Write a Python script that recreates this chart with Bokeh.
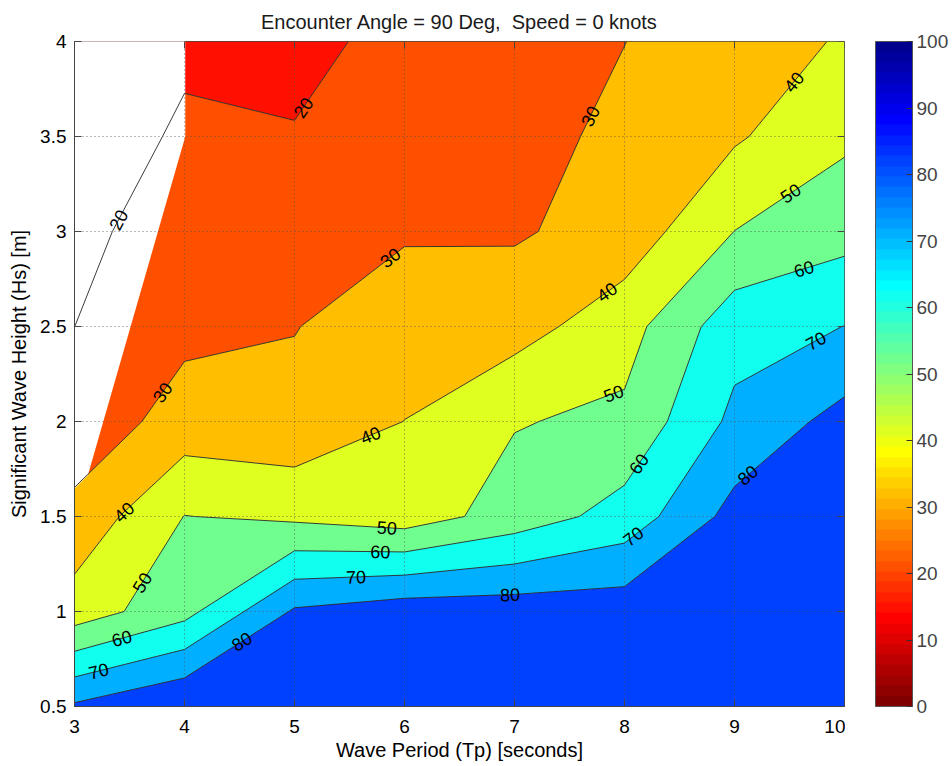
import numpy as np
import contourpy
from bokeh.plotting import figure
from bokeh.layouts import row
from bokeh.models import (ColumnDataSource, LinearColorMapper, ColorBar, FixedTicker,
                          CustomJSTickFormatter, LabelSet, Range1d)
from bokeh.core.properties import value
from bokeh.embed import file_html
from bokeh.resources import INLINE

# ---------------- data ----------------
wave_period = [3, 4, 5, 6, 7, 8, 9, 10]                    # Tp [s]
wave_height = [0.5, 1.0, 1.5, 2.0, 2.5, 3.0, 3.5, 4.0]     # Hs [m]
# percentage values, one list per wave height (columns follow wave_period)
pct_hs_0_5 = [81.5, 90.0, 92.0, 93.0, 94.0, 94.0, 95.0, 96.0]
pct_hs_1_0 = [44.5, 56.7, 81.3, 85.7, 85.6, 85.7, 90.0, 92.0]
pct_hs_1_5 = [33.0, 50.2, 48.0, 44.7, 54.4, 63.9, 83.5, 88.0]
pct_hs_2_0 = [23.2, 34.3, 32.6, 40.1, 49.4, 52.1, 72.4, 83.5]
pct_hs_2_5 = [19.98, 27.5, 29.7, 35.0, 36.0, 45.9, 66.1, 70.1]
pct_hs_3_0 = [17.9, 24.0, 26.0, 29.05, 28.9, 34.0, 50.1, 56.45]
pct_hs_3_5 = [14.0, 21.5, 21.0, 27.0, 27.0, 32.0, 38.75, 48.2]
pct_hs_4_0 = [12.0, 18.2, 15.1, 25.1, 26.0, 29.9, 35.0, 40.95]

contour_levels = [20, 30, 40, 50, 60, 70, 80]
lowest_band_value = 13.0

# unfilled (blank) area in the upper-left corner
blank_tp = [3.0, 3.115, 4.0, 4.0, 3.0]
blank_hs = [1.653, 1.718, 3.5, 4.0, 4.0]

# inline contour labels: level and Tp position along the line
label_level = [20, 20, 30, 30, 30, 40, 40, 40, 40, 50, 50, 50, 50,
               60, 60, 60, 60, 70, 70, 70, 70, 80, 80, 80]
label_tp = [5.08, 3.40, 3.80, 5.87, 7.69, 3.45, 5.69, 7.84, 9.54, 3.615, 5.84, 7.90, 9.51,
            3.43, 5.78, 8.13, 9.63, 3.22, 5.56, 8.08, 9.74, 4.52, 6.96, 9.12]

x_ticks = [3, 4, 5, 6, 7, 8, 9, 10]
y_ticks = [0.5, 1, 1.5, 2, 2.5, 3, 3.5, 4]
cbar_ticks = [0, 10, 20, 30, 40, 50, 60, 70, 80, 90, 100]
cbar_low, cbar_high = 0, 100

title_text = "Encounter Angle = 90 Deg,\u00a0 Speed = 0 knots"
x_label = "Wave Period (Tp) [seconds]"
y_label = "Significant Wave Height (Hs) [m]"

# ---------------- helpers ----------------
FONT = "Liberation Sans"
FRAME_W, FRAME_H = 770, 665
TOP, BOTTOM = 41, 59


def matlab_jet(m=64):
    n = int(np.ceil(m / 4))
    u = np.concatenate([np.arange(1, n + 1) / n, np.ones(n - 1), np.arange(n, 0, -1) / n])
    g = int(np.ceil(n / 2)) - (1 if m % 4 == 1 else 0) + np.arange(1, len(u) + 1)
    r = g + n
    b = g - n
    J = np.zeros((m, 3))
    for col, idx in ((0, r), (1, g), (2, b)):
        ok = (idx >= 1) & (idx <= m)
        J[idx[ok] - 1, col] = u[ok]
    return J


jet = matlab_jet(64)[::-1]
palette = ["#%02x%02x%02x" % tuple(int(round(c * 255)) for c in row_) for row_ in jet]


def band_color(v):
    i = int((v - cbar_low) / (cbar_high - cbar_low) * len(palette)) + 1
    return palette[min(max(i, 0), len(palette) - 1)]


Z = np.array([pct_hs_0_5, pct_hs_1_0, pct_hs_1_5, pct_hs_2_0,
              pct_hs_2_5, pct_hs_3_0, pct_hs_3_5, pct_hs_4_0], dtype=float)
X = np.array(wave_period, dtype=float)
Y = np.array(wave_height, dtype=float)

fill_levels = [cbar_low] + contour_levels + [cbar_high]
band_colors = [band_color(lowest_band_value)] + [band_color(v) for v in contour_levels]

x0, x1 = min(wave_period), max(wave_period)
y0, y1 = min(wave_height), max(wave_height)
sx = FRAME_W / (x1 - x0)
sy = FRAME_H / (y1 - y0)

# label positions / angles taken from the contour lines themselves
gen = contourpy.contour_generator(X, Y, Z)
lab_x, lab_y, lab_a, lab_t = [], [], [], []
for lev, xl in zip(label_level, label_tp):
    found = None
    for line in gen.lines(lev):
        for (ax, ay), (bx, by) in zip(line[:-1], line[1:]):
            if ax != bx and min(ax, bx) <= xl <= max(ax, bx):
                t = (xl - ax) / (bx - ax)
                ang = np.arctan2((by - ay) * sy, (bx - ax) * sx)
                if ang > np.pi / 2:
                    ang -= np.pi
                if ang < -np.pi / 2:
                    ang += np.pi
                found = (xl, ay + t * (by - ay), ang)
                break
        if found:
            break
    if found:
        lab_x.append(found[0]); lab_y.append(found[1]); lab_a.append(found[2])
        lab_t.append(str(lev))

# ---------------- main figure ----------------
p = figure(frame_width=FRAME_W, frame_height=FRAME_H,
           x_range=Range1d(x0, x1), y_range=Range1d(y0, y1),
           min_border_left=74, min_border_top=TOP, min_border_bottom=BOTTOM, min_border_right=1,
           output_backend="svg", toolbar_location=None, title=title_text)

p.contour(x=X, y=Y, z=Z, levels=fill_levels, fill_color=band_colors, line_color=None)
p.patch(blank_tp, blank_hs, fill_color="white", line_color="white", line_width=1.5)
p.contour(x=X, y=Y, z=Z, levels=contour_levels, fill_color=None,
          line_color="#262626", line_width=0.9)

# inward ticks on top and right edges (box on)
p.ray(x=x_ticks, y=[y1] * len(x_ticks), length=7, length_units="screen",
      angle=-np.pi / 2, line_color="#444444", line_width=1)
p.ray(x=[x1] * len(y_ticks), y=y_ticks, length=7, length_units="screen",
      angle=np.pi, line_color="#444444", line_width=1)

src = ColumnDataSource(dict(x=lab_x, y=lab_y, angle=lab_a, text=lab_t))
p.add_layout(LabelSet(x="x", y="y", text="text", angle="angle", source=src,
                      text_align="center", text_baseline="middle",
                      text_font=value(FONT), text_font_size="18px", text_color="black"))

fmt = CustomJSTickFormatter(code="return String(Math.round(tick*100)/100);")
for ax, ticks in ((p.xaxis[0], x_ticks), (p.yaxis[0], y_ticks)):
    ax.ticker = FixedTicker(ticks=ticks)
    ax.formatter = fmt
    ax.major_tick_in = 7
    ax.major_tick_out = 0
    ax.minor_tick_line_color = None
    ax.axis_line_color = "#444444"
    ax.major_tick_line_color = "#444444"
    ax.major_label_text_font = FONT
    ax.major_label_text_font_size = "19px"
    ax.major_label_text_color = "black"
    ax.axis_label_text_font = FONT
    ax.axis_label_text_font_size = "20px"
    ax.axis_label_text_font_style = "normal"
    ax.axis_label_text_color = "black"
p.xaxis.axis_label = x_label
p.yaxis.axis_label = y_label
p.xaxis.major_label_standoff = 13
p.xaxis.axis_label_standoff = 3
p.yaxis.major_label_standoff = 8
p.yaxis.axis_label_standoff = 7

for g, ticks in ((p.xgrid[0], x_ticks), (p.ygrid[0], y_ticks)):
    g.ticker = FixedTicker(ticks=ticks)
    g.grid_line_color = "#505050"
    g.grid_line_alpha = 0.8
    g.grid_line_dash = "1 3"
    g.grid_line_width = 1
    g.level = "guide"

p.outline_line_color = "#444444"
p.outline_line_width = 1
p.background_fill_color = "white"
p.border_fill_color = "white"

p.title.text_font = FONT
p.title.text_font_size = "20px"
p.title.text_font_style = "normal"
p.title.text_color = "#1a1a1a"
p.title.align = "center"
p.title.vertical_align = "top"
p.title.standoff = 14

# ---------------- colour bar (own narrow figure; its frame is the gap) ----------------
pc = figure(frame_width=30, frame_height=FRAME_H,
            x_range=Range1d(0, 1), y_range=Range1d(cbar_low, cbar_high),
            min_border_left=0, min_border_top=TOP, min_border_bottom=BOTTOM, min_border_right=0,
            output_backend="svg", toolbar_location=None)
pc.axis.visible = False
pc.grid.visible = False
pc.outline_line_color = None
pc.background_fill_color = "white"
pc.border_fill_color = "white"

mapper = LinearColorMapper(palette=palette, low=cbar_low, high=cbar_high)
cb = ColorBar(color_mapper=mapper, ticker=FixedTicker(ticks=cbar_ticks),
              width=37, height=FRAME_H, padding=0, margin=0, label_standoff=4,
              major_label_text_font=FONT, major_label_text_font_size="19px",
              major_tick_in=6, major_tick_out=0, major_tick_line_color="#333333",
              bar_line_color="#555555", location="top_left",
              background_fill_alpha=0, border_line_color=None)
pc.add_layout(cb, "right")

layout = row(p, pc)
open("out.html", "w").write(file_html(layout, INLINE))
